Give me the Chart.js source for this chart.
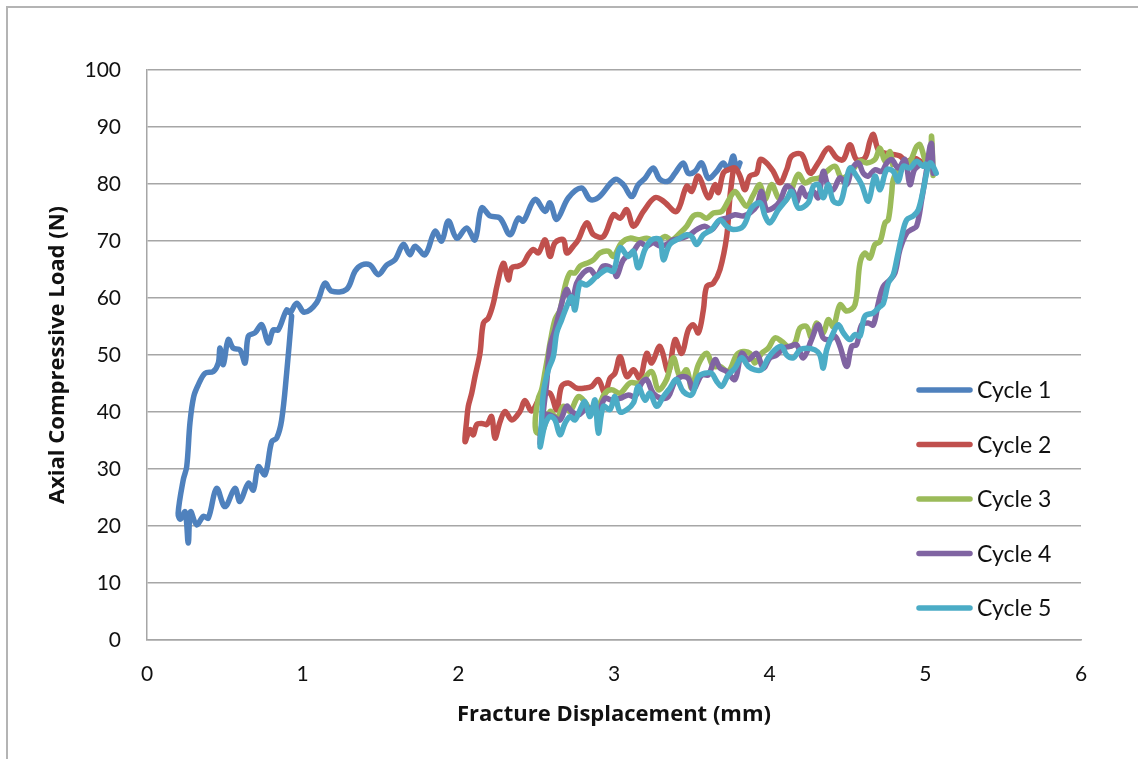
<!DOCTYPE html>
<html>
<head>
<meta charset="utf-8">
<script src="https://cdn.jsdelivr.net/npm/chart.js@4/dist/chart.umd.min.js"></script>
<style>
  html, body { margin: 0; padding: 0; background: #ffffff; }
  body { width: 1138px; height: 759px; position: relative; overflow: hidden; }
  #frame { position: absolute; left: 6px; top: 6px; width: 1200px; height: 900px;
           border-left: 2px solid #b4b4b4; border-top: 2px solid #b4b4b4; box-sizing: border-box; }
  #wrap { position: absolute; left: 0; top: 0; width: 1138px; height: 759px; }
</style>
</head>
<body>
<div id="frame"></div>
<div id="wrap"><canvas id="c" width="1138" height="759"></canvas></div>
<script>
// ---- Data ----
const seriesLabels = ['Cycle 1', 'Cycle 2', 'Cycle 3', 'Cycle 4', 'Cycle 5'];
const seriesColors = ['#4F81BD', '#C0504D', '#9BBB59', '#8064A2', '#4BACC6'];
const yTickValues = [0, 10, 20, 30, 40, 50, 60, 70, 80, 90, 100];
const xTickValues = [0, 1, 2, 3, 4, 5, 6];
const xAxisTitle = 'Fracture Displacement (mm)';
const yAxisTitle = 'Axial Compressive Load (N)';

const cycle1X = [3.809,3.788,3.766,3.734,3.702,3.659,3.606,3.563,3.52,3.477,3.445,3.392,3.349,3.295,3.252,3.199,3.156,3.113,3.06,3.006,2.899,2.846,2.792,2.707,2.632,2.589,2.557,2.492,2.418,2.385,2.332,2.268,2.203,2.15,2.107,2.054,1.99,1.936,1.893,1.85,1.786,1.722,1.689,1.647,1.593,1.54,1.486,1.432,1.379,1.336,1.282,1.186,1.143,1.09,1.01,0.962,0.919,0.897,0.843,0.811,0.779,0.737,0.694,0.651,0.63,0.597,0.554,0.522,0.49,0.469,0.458,0.426,0.373,0.33,0.30,0.276,0.255,0.233,0.20,0.215,0.245,0.265,0.28,0.319,0.362,0.394,0.447,0.501,0.565,0.597,0.651,0.683,0.715,0.758,0.801,0.833,0.865,0.897,0.929];
const cycle1Y = [83.7,82.5,84.9,82.5,83.7,82.2,81.0,83.7,82.2,81.9,83.7,81.9,80.5,80.8,82.8,81.0,79.9,77.8,79.9,80.8,77.6,77.3,79.3,77.6,73.8,76.7,75.2,77.3,73.5,74.0,71.1,74.0,74.4,75.8,70.2,72.3,70.5,73.5,70.0,71.7,67.6,69.1,67.6,69.4,66.7,65.8,64.1,65.8,65.8,64.7,61.5,61.2,62.6,59.2,57.5,59.1,57.4,57.9,54.4,54.4,52.1,55.3,53.9,53.3,48.6,50.9,51.2,52.7,48.3,51.2,48.6,47.1,46.8,44.8,42.7,38.1,30.4,28.1,22.2,21.2,22.5,17.0,22.5,20.2,21.7,21.4,26.6,23.4,26.6,24.3,27.5,26.3,30.4,29.0,34.8,35.4,38.6,46.8,56.8];

const cycle2X = [4.98,4.93,4.88,4.837,4.794,4.741,4.698,4.666,4.644,4.612,4.558,4.516,4.473,4.43,4.376,4.312,4.259,4.205,4.141,4.109,4.066,4.023,3.98,3.94,3.916,3.873,3.841,3.809,3.777,3.734,3.702,3.67,3.649,3.606,3.542,3.499,3.467,3.402,3.317,3.263,3.189,3.125,3.082,3.039,2.996,2.932,2.868,2.825,2.77,2.739,2.696,2.675,2.621,2.589,2.557,2.514,2.482,2.45,2.418,2.385,2.343,2.321,2.289,2.247,2.225,2.193,2.161,2.139,2.107,2.086,2.064,2.054,2.043,2.075,2.096,2.118,2.15,2.182,2.214,2.235,2.268,2.3,2.343,2.396,2.428,2.471,2.535,2.589,2.632,2.663,2.707,2.76,2.813,2.857,2.899,2.942,2.974,3.006,3.039,3.082,3.125,3.167,3.21,3.242,3.295,3.349,3.392,3.435,3.477,3.51,3.542,3.574,3.595,3.638,3.681,3.724,3.745,3.766];
const cycle2Y = [83.8,84.5,84.0,84.9,85.2,85.4,86.0,88.7,87.5,84.6,84.3,86.9,84.3,84.6,86.3,83.7,81.9,85.2,84.9,82.5,80.2,82.2,83.7,84.3,81.9,81.4,79.0,81.4,82.8,82.5,81.9,78.5,79.9,77.6,81.4,78.7,79.6,75.2,77.0,77.6,75.2,72.6,75.5,74.0,74.6,70.8,71.1,73.2,70.2,69.1,67.9,70.2,69.7,67.3,70.2,67.9,68.5,67.6,66.1,65.6,65.3,63.2,66.1,62.0,59.1,56.5,55.6,50.3,46.2,43.3,41.0,38.6,34.8,36.9,36.0,37.8,38.0,37.8,39.2,35.4,38.3,40.1,38.6,40.1,42.0,40.2,43.0,43.3,40.4,44.5,45.1,44.2,44.2,44.5,45.7,43.3,45.9,46.8,49.7,46.2,47.4,45.9,50.3,48.6,51.5,47.1,52.7,50.3,54.4,55.3,53.9,57.9,62.0,62.6,65.0,70.8,77.8,82.5];

const cycle3X = [4.79,4.773,4.741,4.709,4.676,4.623,4.58,4.516,4.462,4.42,4.366,4.323,4.27,4.227,4.184,4.141,4.098,4.056,4.013,3.97,3.937,3.895,3.852,3.809,3.777,3.745,3.692,3.638,3.595,3.552,3.51,3.467,3.424,3.37,3.327,3.274,3.21,3.156,3.103,3.049,2.996,2.964,2.91,2.868,2.825,2.782,2.75,2.717,2.685,2.653,2.621,2.589,2.578,2.557,2.535,2.514,2.495,2.50,2.535,2.589,2.632,2.675,2.717,2.771,2.813,2.857,2.899,2.942,2.985,3.039,3.103,3.167,3.242,3.285,3.338,3.381,3.424,3.467,3.499,3.542,3.595,3.638,3.681,3.734,3.788,3.83,3.873,3.905,3.948,3.991,4.034,4.077,4.12,4.162,4.194,4.237,4.269,4.301,4.344,4.376,4.409,4.452,4.495,4.548,4.58,4.612,4.644,4.676,4.709,4.741,4.762,4.784,4.794,4.837,4.901,4.944,4.966,4.998,5.03,5.04,5.05];
const cycle3Y = [83.4,85.7,84.0,86.3,84.3,83.7,84.0,81.9,81.1,83.1,82.2,81.1,80.8,80.2,81.7,79.0,77.0,77.6,79.9,77.3,79.9,78.1,76.1,77.6,78.7,77.6,75.2,74.9,74.0,74.6,74.4,72.6,71.4,70.2,70.8,69.9,70.5,70.2,70.5,69.7,67.3,68.2,67.9,66.7,66.1,65.6,64.4,64.4,62.0,57.9,56.2,52.1,50.3,47.1,43.9,42.4,39.0,36.5,36.3,40.1,38.9,41.0,40.1,42.7,41.8,40.1,41.0,43.3,43.9,43.3,45.1,45.1,47.1,43.9,45.7,49.5,46.2,47.4,44.2,48.3,50.3,48.0,48.0,47.1,50.0,50.6,50.3,48.6,50.3,51.2,53.0,52.4,51.5,52.1,54.7,55.0,53.0,55.6,53.9,56.2,55.0,58.8,57.7,58.8,66.1,67.9,67.0,69.4,69.9,73.2,73.7,78.4,80.8,83.1,84.0,86.6,86.9,84.3,83.1,88.4,81.5];

const cycle4X = [4.966,4.93,4.901,4.869,4.826,4.784,4.752,4.72,4.676,4.634,4.601,4.57,4.527,4.495,4.452,4.409,4.376,4.344,4.312,4.28,4.237,4.205,4.173,4.152,4.109,4.066,4.023,3.98,3.948,3.916,3.873,3.83,3.777,3.724,3.681,3.627,3.584,3.531,3.488,3.435,3.381,3.338,3.295,3.252,3.21,3.167,3.125,3.06,3.017,2.996,2.932,2.889,2.846,2.803,2.76,2.728,2.696,2.653,2.621,2.589,2.567,2.546,2.535,2.525,2.535,2.567,2.61,2.653,2.696,2.728,2.771,2.813,2.857,2.899,2.942,2.985,3.039,3.092,3.135,3.178,3.21,3.252,3.306,3.349,3.392,3.435,3.477,3.51,3.563,3.606,3.649,3.681,3.724,3.777,3.82,3.863,3.916,3.959,4.002,4.045,4.087,4.13,4.173,4.216,4.269,4.312,4.344,4.387,4.42,4.452,4.495,4.527,4.558,4.591,4.634,4.666,4.698,4.73,4.773,4.805,4.837,4.88,4.912,4.944,4.977,5.008,5.03,5.04,5.05];
const cycle4Y = [83.4,82.5,79.9,84.3,82.8,84.3,83.7,82.2,82.5,81.4,81.9,83.7,82.5,79.9,81.1,79.0,79.6,82.2,77.6,78.7,77.8,79.3,76.7,78.7,79.6,77.0,75.8,75.5,78.7,76.1,74.9,74.4,74.6,74.0,73.7,72.0,72.6,72.0,71.1,70.5,70.2,69.4,69.1,69.7,69.1,69.7,68.2,66.7,63.8,65.0,65.6,63.8,65.0,64.4,62.6,59.1,61.5,57.9,54.4,51.5,45.0,40.0,36.3,34.5,37.5,39.5,39.2,38.6,41.0,40.1,39.5,40.4,40.7,40.1,42.4,42.1,42.4,43.0,42.7,45.1,45.7,43.3,42.4,42.7,45.4,46.2,45.9,43.9,46.5,46.5,49.2,47.7,47.1,45.7,50.3,49.2,50.3,47.7,49.5,50.0,51.2,51.5,51.8,49.5,52.7,55.3,53.0,52.7,53.3,51.5,48.0,51.5,51.8,55.3,55.6,55.3,59.1,62.0,63.2,64.4,68.5,71.4,72.0,72.6,77.3,82.5,86.6,87.1,81.9];

const cycle5X = [5.0,4.987,4.944,4.901,4.858,4.826,4.794,4.752,4.709,4.676,4.634,4.591,4.558,4.516,4.484,4.452,4.409,4.377,4.344,4.312,4.28,4.248,4.184,4.141,4.109,4.056,4.002,3.97,3.94,3.884,3.83,3.766,3.724,3.681,3.627,3.574,3.531,3.499,3.467,3.424,3.359,3.317,3.295,3.242,3.199,3.156,3.125,3.092,3.039,2.996,2.953,2.889,2.825,2.782,2.749,2.728,2.696,2.664,2.632,2.61,2.578,2.546,2.535,2.525,2.545,2.557,2.589,2.621,2.653,2.685,2.717,2.749,2.782,2.813,2.846,2.878,2.899,2.932,2.974,3.006,3.039,3.082,3.125,3.156,3.199,3.231,3.274,3.317,3.359,3.402,3.445,3.499,3.542,3.584,3.627,3.659,3.692,3.734,3.777,3.82,3.863,3.905,3.948,3.991,4.034,4.077,4.109,4.152,4.194,4.237,4.291,4.323,4.344,4.366,4.409,4.441,4.473,4.516,4.548,4.58,4.612,4.666,4.709,4.73,4.762,4.794,4.816,4.848,4.88,4.923,4.955,4.987,5.008,5.03,5.05,5.07];
const cycle5Y = [83.5,83.1,84.0,82.8,83.1,80.5,82.2,82.5,79.0,81.4,77.0,79.9,81.4,82.8,79.6,76.7,77.0,79.9,77.6,79.9,79.6,76.7,75.8,78.7,77.3,75.5,73.2,74.4,76.7,75.8,72.6,72.0,72.6,73.7,72.0,71.1,69.4,70.8,71.1,70.5,69.4,66.7,70.2,70.2,68.5,65.3,68.2,67.3,68.8,64.7,65.0,63.8,62.3,62.6,57.9,60.2,58.5,56.2,53.9,49.7,47.4,43.3,38.6,33.9,36.5,37.8,39.2,38.6,36.0,38.0,39.2,38.6,40.4,41.8,39.2,42.1,36.3,41.0,40.4,42.7,40.0,40.4,41.6,44.5,42.1,43.3,41.0,42.7,44.2,45.7,43.6,43.0,46.2,46.8,46.8,45.4,44.5,46.5,47.7,49.5,48.0,47.4,47.4,49.5,50.9,51.5,50.0,49.5,50.9,51.2,50.9,50.0,47.7,50.9,53.9,55.3,53.9,52.7,53.6,53.3,56.8,57.4,58.5,59.0,62.6,64.1,66.7,70.8,73.7,74.4,75.5,79.0,81.9,83.7,83.1,81.9];

const seriesX = [cycle1X, cycle2X, cycle3X, cycle4X, cycle5X];
const seriesY = [cycle1Y, cycle2Y, cycle3Y, cycle4Y, cycle5Y];

// ---- Chart ----
const FONT = 'Lato, "Open Sans", "Noto Sans", sans-serif';
const TITLE_FONT = '"Open Sans", Lato, "Noto Sans", sans-serif';
const TEXT_COLOR = '#111111';
const GRID_COLOR = '#a6a6a6';

const sideLegend = {
  id: 'sideLegend',
  afterDraw(chart) {
    const ctx = chart.ctx, area = chart.chartArea;
    const x0 = area.right - 164, y0 = area.top + 320, step = 54.5;
    chart.data.datasets.forEach((ds, i) => {
      const y = y0 + i * step;
      ctx.save();
      ctx.strokeStyle = ds.borderColor;
      ctx.lineWidth = 5.5;
      ctx.lineCap = 'round';
      ctx.beginPath();
      ctx.moveTo(x0 + 2, y);
      ctx.lineTo(x0 + 53, y);
      ctx.stroke();
      ctx.fillStyle = TEXT_COLOR;
      ctx.font = '23px ' + FONT;
      ctx.textBaseline = 'middle';
      ctx.textAlign = 'left';
      ctx.fillText(ds.label, x0 + 60, y + 1);
      ctx.restore();
    });
  }
};

function build() {
  const datasets = seriesLabels.map((label, i) => ({
    label: label,
    data: seriesX[i].map((x, j) => ({ x: x, y: seriesY[i][j] })),
    borderColor: seriesColors[i],
    backgroundColor: seriesColors[i],
    borderWidth: 5.5,
    pointRadius: 0,
    pointHoverRadius: 0,
    showLine: true,
    fill: false,
    tension: 0.35,
    borderCapStyle: 'round',
    borderJoinStyle: 'round',
    order: seriesLabels.length - i
  }));

  new Chart(document.getElementById('c'), {
    type: 'scatter',
    data: { datasets: datasets },
    plugins: [sideLegend],
    options: {
      responsive: false,
      animation: false,
      events: [],
      layout: { padding: { top: 70, right: 57, bottom: 0, left: 0 } },
      plugins: { legend: { display: false }, tooltip: { enabled: false } },
      scales: {
        x: {
          type: 'linear',
          min: xTickValues[0],
          max: xTickValues[xTickValues.length - 1],
          afterBuildTicks: (s) => { s.ticks = xTickValues.map(v => ({ value: v })); },
          afterFit: (s) => { s.height = 119; },
          grid: { display: false, drawTicks: false },
          border: { display: true, color: GRID_COLOR, width: 1.5 },
          ticks: { color: TEXT_COLOR, font: { family: FONT, size: 21 }, padding: 22, maxRotation: 0 },
          title: { display: true, text: xAxisTitle, color: TEXT_COLOR,
                   font: { family: TITLE_FONT, size: 22, weight: 'bold' }, padding: { top: 0, bottom: 31 } }
        },
        y: {
          type: 'linear',
          min: yTickValues[0],
          max: yTickValues[yTickValues.length - 1],
          afterBuildTicks: (s) => { s.ticks = yTickValues.map(v => ({ value: v })); },
          afterFit: (s) => { s.width = 147; },
          grid: { display: true, drawTicks: false, color: GRID_COLOR, lineWidth: 1.5 },
          border: { display: true, color: GRID_COLOR, width: 1.5 },
          ticks: { color: TEXT_COLOR, font: { family: FONT, size: 21 }, padding: 26 },
          title: { display: true, text: yAxisTitle, color: TEXT_COLOR,
                   font: { family: TITLE_FONT, size: 22, weight: 'bold' }, padding: { top: 45, bottom: 0 } }
        }
      }
    }
  });
}

const fontLoads = [document.fonts.load('21px Lato'), document.fonts.load('23px Lato'),
                   document.fonts.load('bold 22px "Open Sans"')];
Promise.all(fontLoads).then(build, build);
</script>
</body>
</html>
